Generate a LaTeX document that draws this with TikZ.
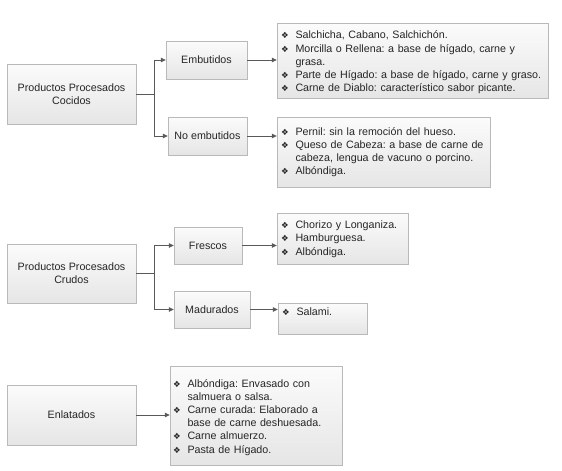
\documentclass[tikz,border=0pt]{standalone}
\usepackage{fontspec}
\setmainfont{Liberation Sans}
\newfontfamily\simbolos{DejaVu Sans}
\usetikzlibrary{arrows.meta,shadows}

\newlength{\sangria}
\setlength{\sangria}{14.5pt}
\newcommand{\vineta}{\makebox[\sangria][l]{\simbolos\fontsize{8.5}{8.5}\selectfont ❖}}
\newcommand{\sigue}{\hspace*{\sangria}}

\begin{document}
\frenchspacing
\begin{tikzpicture}[x=1pt,y=-1pt,
every node/.style={text=black!85},
caja/.style={draw=gray!55, top color=gray!3, bottom color=gray!20,
    drop shadow={shadow xshift=1.2pt, shadow yshift=-1.2pt, opacity=.25},
    align=center, inner sep=2pt, font=\fontsize{10.7}{12.7}\selectfont},
lista/.style={caja, align=left, inner xsep=4pt, inner ysep=3pt, font=\fontsize{10.7}{13.2}\selectfont},
flecha/.style={draw=black!65, line width=.8pt, -{Triangle[length=5pt,width=4.5pt]}}
]
\useasboundingbox (0,0) rectangle (562,471);

% cocidos
\node[caja, minimum width=129, minimum height=60] (cocidos) at (71.5,94) {Productos Procesados\\Cocidos};
\node[caja, minimum width=81, minimum height=38] (embutidos) at (206.5,60) {Embutidos};
\node[caja, minimum width=79, minimum height=38] (noemb) at (207.5,136) {No embutidos};
\node[lista, text width=263pt, text height=12.8pt, text depth=56.2pt] (lemb) at (412.5,60.5) {%
\vineta Salchicha, Cabano, Salchichón.\\
\vineta Morcilla o Rellena: a base de hígado, carne y\\
\sigue grasa.\\
\vineta Parte de Hígado: a base de hígado, carne y graso.\\
\vineta Carne de Diablo: característico sabor picante.};
\node[lista, text width=205pt, text height=15.3pt, text depth=48.7pt] (lnoemb) at (383.5,152) {%
\vineta Pernil: sin la remoción del hueso.\\
\vineta Queso de Cabeza: a base de carne de\\
\sigue cabeza, lengua de vacuno o porcino.\\
\vineta Albóndiga.};

% crudos
\node[caja, minimum width=129, minimum height=59] (crudos) at (71.5,273.5) {Productos Procesados\\Crudos};
\node[caja, minimum width=68, minimum height=37] (frescos) at (208,245.5) {Frescos};
\node[caja, minimum width=76, minimum height=37] (madurados) at (212,309.5) {Madurados};
\node[lista, text width=123pt, text height=12.3pt, text depth=32.7pt,
    font=\fontsize{10.7}{13.5}\selectfont] (lfres) at (342.5,238.5) {%
\vineta Chorizo y Longaniza.\\
\vineta Hamburguesa.\\
\vineta Albóndiga.};
\node[lista, text width=81pt, text height=9.5pt, text depth=15.5pt] (lmad) at (322.5,318.5) {%
\vineta Salami.};

% enlatados
\node[caja, minimum width=129, minimum height=60] (enlatados) at (71.5,415) {Enlatados};
\node[lista, inner xsep=3pt, text width=166pt, text height=18pt, text depth=75pt] (lenl) at (256,415.5) {%
\vineta Albóndiga: Envasado con\\
\sigue salmuera o salsa.\\
\vineta Carne curada: Elaborado a\\
\sigue base de carne deshuesada.\\
\vineta Carne almuerzo.\\
\vineta Pasta de Hígado.};

\foreach \p/\h in {cocidos/embutidos, cocidos/noemb, crudos/frescos, crudos/madurados}
    \draw[flecha] (\p.east) -- ++(18,0) |- (\h.west);

\foreach \i/\j in {embutidos/lemb, noemb/lnoemb, frescos/lfres, madurados/lmad, enlatados/lenl}
    \draw[flecha] (\i) -- (\i -| \j.west);
\end{tikzpicture}
\end{document}
